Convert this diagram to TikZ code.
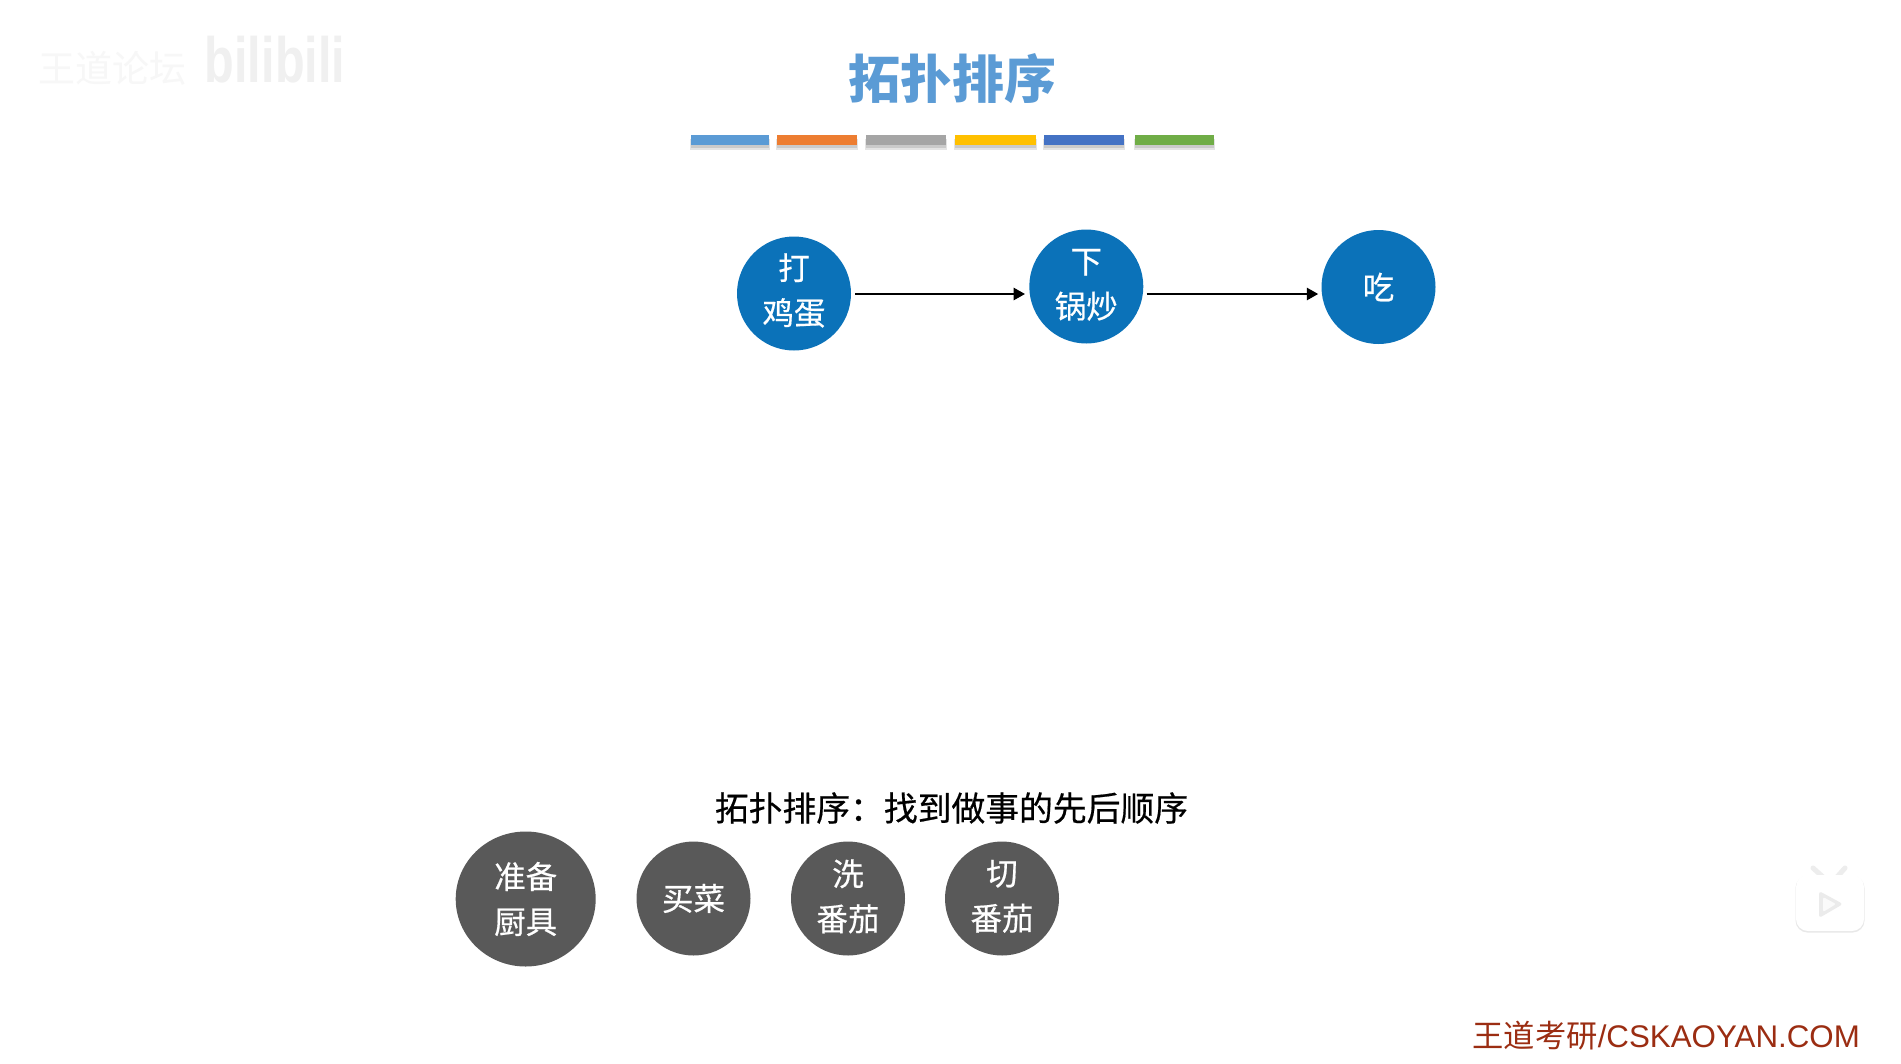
\documentclass[tikz,border=0pt]{standalone}
\usepackage{fontspec}
\setmainfont{Liberation Sans}
\newfontfamily\cjk{Noto Sans CJK SC}
\newfontfamily\cjkm[FakeBold=0.5]{Noto Sans CJK SC}
\usetikzlibrary{arrows.meta,shapes.geometric}
\definecolor{nodeblue}{HTML}{0B72B9}
\definecolor{nodegray}{HTML}{595959}
\definecolor{titleblue}{HTML}{5B9BD5}
\definecolor{footred}{HTML}{9B2D12}
\definecolor{baA}{HTML}{5B9BD5}
\definecolor{baB}{HTML}{ED7D31}
\definecolor{baC}{HTML}{A5A5A5}
\definecolor{baD}{HTML}{FFC000}
\definecolor{baE}{HTML}{4472C4}
\definecolor{baF}{HTML}{70AD47}
\tikzset{
  disc/.style={circle,minimum size=114pt,inner sep=0pt,text=white,align=center,
    font=\cjkm\fontsize{31.5}{45}\selectfont},
  bluedisc/.style={disc,fill=nodeblue},
  graydisc/.style={disc,fill=nodegray},
  arr/.style={draw=black,line width=2.7pt,-{Triangle[length=11.5pt,width=12pt]}},
  barshadow/.style={fill=black!30,draw=none,opacity=.5},
}
\newcommand{\colorbar}[3]{%
  \fill[barshadow] (#1,138) rectangle (#2,148);
  \fill[barshadow,opacity=.35] (#1-1,139) rectangle (#2+1,149.5);
  \fill[#3] (#1,135) rectangle (#2,145);}
\begin{document}
\begin{tikzpicture}[x=1pt,y=-1pt]
\useasboundingbox (0,0) rectangle (1901,1063);
\fill[white] (0,0) rectangle (1901,1063);
% watermark
\node (wmA) at (112.5,68) [text=black!3,font=\cjk\fontsize{37}{37}\selectfont,inner sep=0pt] {王道论坛};
\node (wmB) at (275,60) [text=black!6,font=\bfseries\fontsize{64}{64}\selectfont,inner sep=0pt,xscale=.76,transform shape] {bilibili};
% title
\node (title) at (952.5,79) [text=titleblue,font=\cjk\bfseries\fontsize{52}{52}\selectfont,inner sep=0pt] {拓扑排序};
\colorbar{690.6}{769}{baA}
\colorbar{776.7}{857}{baB}
\colorbar{866}{946}{baC}
\colorbar{955.4}{1036}{baD}
\colorbar{1043.8}{1123.8}{baE}
\colorbar{1135}{1213.8}{baF}
% top row
\node[bluedisc,text depth=9pt] (egg) at (794,293.5) {打\\鸡蛋};
\node[bluedisc,text depth=6pt] (fry) at (1086.3,286.5) {下\\锅炒};
\node[bluedisc] (eat) at (1378.5,287) {吃};
\draw[arr] ([xshift=4pt,yshift=-0.5pt]egg.east) -- ([xshift=-4pt,yshift=-7.5pt]fry.west);
\draw[arr] ([xshift=3pt,yshift=-7.5pt]fry.east) -- ([xshift=-3pt,yshift=-7pt]eat.west);
% caption
\node (caption) at (951.5,808) [text=black,font=\cjkm\fontsize{33.8}{34}\selectfont,inner sep=0pt] {拓扑排序：找到做事的先后顺序};
% bottom row
\node[graydisc,ellipse,minimum width=140pt,minimum height=135pt] (tools) at (525.7,899) {准备\\厨具};
\node[graydisc] (buy) at (693.5,898.5) {买菜};
\node[graydisc,text depth=7pt] (wash) at (848,898.5) {洗\\番茄};
\node[graydisc,text depth=7pt] (cut) at (1002,898.5) {切\\番茄};
% footer
\node (foot) [anchor=east,text=footred,font=\fontsize{31.3}{31}\selectfont,inner sep=0pt] at (1860,1036) {{\cjk 王道考研}/CSKAOYAN.COM};
% tv icon
\draw[black!7,line width=5pt,line cap=round] (1813,868) -- (1823,877);
\draw[black!7,line width=5pt,line cap=round] (1845,868) -- (1837,877);
\fill[black!9,rounded corners=12pt] (1795.5,876) rectangle (1864.5,932.5);
\fill[white,rounded corners=12pt] (1796,875) rectangle (1864,931);
\fill[black!8,rounded corners=3pt] (1819,891) -- (1843,904) -- (1819,918) -- cycle;
\fill[black!2,rounded corners=2pt] (1823,897) -- (1836,904) -- (1823,912) -- cycle;
\end{tikzpicture}
\end{document}
